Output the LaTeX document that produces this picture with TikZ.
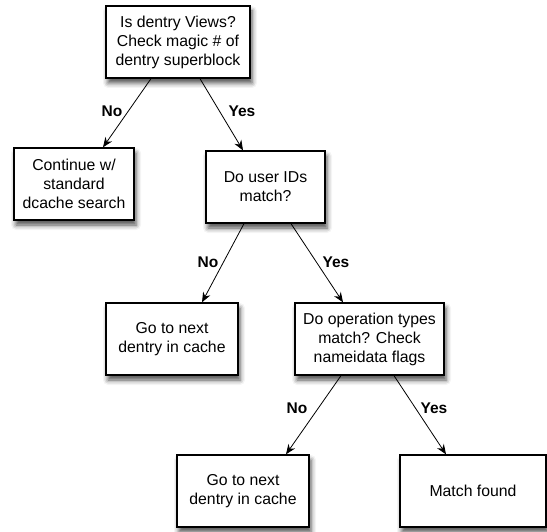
\documentclass[tikz,border=0pt]{standalone}
\usepackage{fontspec}
\setmainfont{Liberation Sans}
\usetikzlibrary{arrows.meta}
\usetikzlibrary{shadows.blur}

\tikzset{
  stepbox/.style={rectangle, draw, line width=1.3pt, fill=white, align=center,
    minimum height=72pt, inner sep=2pt,
    font=\fontsize{15.8}{19}\selectfont,
    blur shadow={shadow xshift=2pt, shadow yshift=-5pt, shadow blur radius=5pt,
      shadow opacity=70}},
  answer/.style={font=\fontsize{15.5}{18}\selectfont\bfseries, inner sep=0pt},
  flow/.style={-{Stealth[length=10pt, width=8pt]}, line width=0.8pt}
}

\begin{document}
\begin{tikzpicture}[x=1pt, y=1pt]
\useasboundingbox (0,0) rectangle (547,-532);

  % first test
  \node[stepbox, minimum width=144pt] (magic) at (178,-42)
        {Is dentry Views?\\Check magic \# of\\dentry superblock};
  \node[stepbox, minimum width=120pt] (dcache) at (74,-184)
        {Continue w/\\standard\\dcache search};
  \node[stepbox, minimum width=119pt] (uid) at (265.5,-187)
        {Do user IDs\\match?};

  \draw[flow] ([xshift=-27pt]magic.south) -- ([xshift=29pt]dcache.north);
  \draw[flow] ([xshift=22pt]magic.south) -- ([xshift=-22.5pt]uid.north);
  \node[answer] at (112,-111) {No};
  \node[answer] at (242,-111) {Yes};

  % second test
  \node[stepbox, minimum width=132pt] (nextA) at (172,-339)
        {Go to next\\dentry in cache};
  \node[stepbox, minimum width=149pt] (optype) at (369.5,-339)
        {Do operation types\\match? Check\\nameidata flags};

  \draw[flow] ([xshift=-21.5pt]uid.south) -- ([xshift=30pt]nextA.north);
  \draw[flow] ([xshift=25.5pt]uid.south) -- ([xshift=-26.5pt]optype.north);
  \node[answer] at (208,-262) {No};
  \node[answer] at (336,-262) {Yes};

  % third test
  \node[stepbox, minimum width=132pt] (nextB) at (243,-491)
        {Go to next\\dentry in cache};
  \node[stepbox, minimum width=146pt] (found) at (473,-491)
        {Match found};

  \draw[flow] ([xshift=-28.5pt]optype.south) -- ([xshift=43pt]nextB.north);
  \draw[flow] ([xshift=24.5pt]optype.south) -- ([xshift=-27pt]found.north);
  \node[answer] at (297,-408) {No};
  \node[answer] at (434,-408) {Yes};

\end{tikzpicture}
\end{document}
